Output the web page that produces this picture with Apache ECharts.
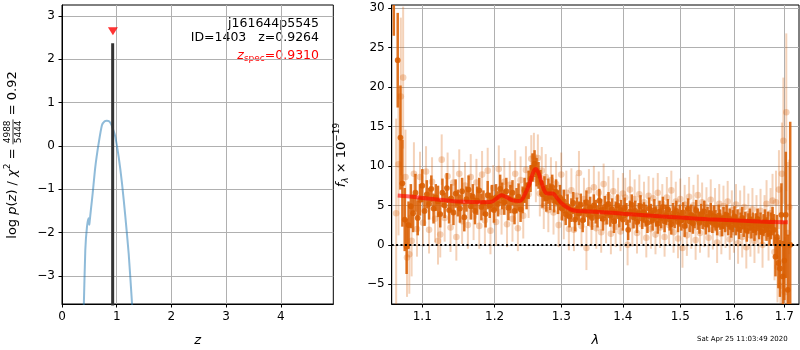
<!DOCTYPE html>
<html>
<head>
<meta charset="utf-8">
<script src="https://cdn.jsdelivr.net/npm/echarts@6/dist/echarts.min.js"></script>
<style>html,body{margin:0;padding:0;background:#fff}#c{width:800px;height:350px}</style>
</head>
<body>
<div id="c"></div>
<script>
// ---------- left panel: p(z) ----------
const pzZ   = [0.39,0.40,0.426,0.457,0.488,0.500,0.505,0.53,0.561,0.609,0.67,0.73,0.78,0.82,0.86,0.90,0.94,0.975,1.036,1.097,1.158,1.219,1.28,1.295];
const pzLog = [-3.9,-3.62,-2.40,-1.86,-1.67,-1.82,-1.75,-1.45,-1.09,-0.48,0.06,0.48,0.57,0.58,0.57,0.50,0.36,0.21,-0.25,-0.86,-1.63,-2.48,-3.63,-3.9];
const zBest = 0.9264, zBestTop = 2.37, zBestBottom = -3.9;
const zSpec = 0.9310, zSpecMarkY = 2.65;
const leftXTicks = [0,1,2,3,4];
const leftYTicks = [-3,-2,-1,0,1,2,3];

// ---------- right panel: spectrum ----------
const darkLam = [
1.063,1.068,1.0715,1.074,1.077,1.0795,1.082,1.085,1.088,1.091,
1.094,1.097,1.100,1.103,1.106,1.109,1.112,1.115,1.118,1.121,
1.124,1.127,1.130,1.133,1.136,1.139,1.142,1.145,1.148,1.151,
1.154,1.157,1.160,1.163,1.166,1.169,1.172,1.175,1.178,1.181,
1.184,1.187,1.190,1.193,1.196,1.199,1.202,1.205,1.208,1.211,
1.214,1.217,1.220,1.223,1.226,1.229,1.232,1.235,1.238,1.241,
1.244,1.247,1.250,1.253,1.256,1.259,1.262,1.265,1.268,1.271,
1.274,1.277,1.280,1.283,1.286,1.289,1.292,1.295,1.298,1.301,
1.304,1.307,1.310,1.313,1.316,1.319,1.322,1.325,1.328,1.331,
1.334,1.337,1.340,1.343,1.346,1.349,1.352,1.355,1.358,1.361,
1.364,1.367,1.370,1.373,1.376,1.379,1.382,1.385,1.388,1.391,
1.394,1.397,1.400,1.403,1.406,1.409,1.412,1.415,1.418,1.421,
1.424,1.427,1.430,1.433,1.436,1.439,1.442,1.445,1.448,1.451,
1.454,1.457,1.460,1.463,1.466,1.469,1.472,1.475,1.478,1.481,
1.484,1.487,1.490,1.493,1.496,1.499,1.502,1.505,1.508,1.511,
1.514,1.517,1.520,1.523,1.526,1.529,1.532,1.535,1.538,1.541,
1.544,1.547,1.550,1.553,1.556,1.559,1.562,1.565,1.568,1.571,
1.574,1.577,1.580,1.583,1.586,1.589,1.592,1.595,1.598,1.601,
1.604,1.607,1.610,1.613,1.616,1.619,1.622,1.625,1.628,1.631,
1.634,1.637,1.640,1.643,1.646,1.649,1.652,1.655,1.658,1.661,
1.664,1.667,1.670,1.673,1.676,1.679,1.682,1.685,1.688,1.691,
1.694,1.697,1.700,1.703,1.707,1.712];
const darkFlux = [
34,23.4,13.6,7.8,3.2,-0.2,2.5,4.9,4.0,6.6,
3.4,5.7,7.5,4.3,6.4,5.2,7.1,4.6,6.0,5.5,
3.9,6.6,5.0,7.2,4.4,5.9,4.1,6.5,5.3,4.6,
6.8,3.5,5.8,7.0,4.9,6.1,4.3,5.6,6.9,4.8,
5.3,3.9,6.3,5.0,5.9,4.4,6.0,5.2,7.1,6.2,
5.4,6.8,4.7,5.8,6.6,4.3,5.6,6.1,4.5,5.7,
6.9,6.2,7.6,8.4,9.8,10.3,9.2,8.8,7.9,6.4,
7.1,5.9,6.8,6.1,7.3,5.6,6.7,5.4,6.0,4.6,
5.5,3.9,4.9,3.6,4.4,5.3,3.2,4.6,4.0,5.1,
3.1,4.3,5.4,3.8,4.7,3.4,5.0,4.2,3.6,5.6,
4.4,3.3,4.8,4.0,5.2,3.7,4.5,3.0,4.1,5.0,
3.6,4.4,3.2,4.7,3.9,1.9,4.2,5.1,3.5,4.3,
2.9,4.0,4.9,3.3,4.1,3.7,2.8,4.6,3.9,3.1,
4.4,3.6,2.7,4.2,3.4,4.8,3.0,3.8,4.5,3.2,
2.6,4.0,3.5,4.3,2.9,3.7,3.1,4.1,2.4,3.4,
4.6,3.0,3.8,2.7,3.5,4.4,3.2,2.8,3.9,3.3,
4.2,2.6,3.5,3.0,4.0,2.8,3.6,3.1,2.5,3.7,
3.2,2.4,3.4,2.9,3.8,2.6,3.3,2.2,3.0,3.6,
2.5,3.1,2.0,2.8,3.4,2.3,2.9,1.8,2.7,3.2,
2.2,2.8,1.9,2.6,3.3,2.1,2.7,1.6,2.5,3.0,
2.0,2.6,1.5,2.4,3.0,1.9,-1.5,1.0,-2.3,-3.0,
3.8,-4.0,-2.0,3.8,-5.7,0.0];
const darkErr = [
7.5,6,6.6,5.5,4,3.5,3,2.8,2.4,2.4,
2.2,2.0,2.1,1.9,1.8,2.0,1.7,1.9,1.7,2.0,
1.7,1.8,1.6,1.9,1.7,1.8,1.6,1.8,1.7,1.8,
1.7,1.8,1.6,1.8,1.7,1.6,1.7,1.8,1.6,1.7,
1.6,1.7,1.8,1.6,1.7,1.6,1.7,1.6,1.8,1.7,
1.6,1.7,1.6,1.8,1.6,1.7,1.6,1.7,1.6,1.7,
1.6,1.7,1.8,1.7,1.8,1.7,1.8,1.7,1.6,1.7,
1.6,1.7,1.6,1.7,1.6,1.5,1.6,1.5,1.6,1.5,
1.5,1.4,1.5,1.4,1.5,1.4,1.5,1.4,1.5,1.4,
1.5,1.4,1.5,1.4,1.4,1.5,1.4,1.5,1.4,1.5,
1.4,1.5,1.4,1.4,1.5,1.4,1.4,1.5,1.4,1.4,
1.4,1.3,1.4,1.3,1.4,1.3,1.4,1.3,1.4,1.3,
1.4,1.3,1.4,1.3,1.3,1.4,1.3,1.4,1.3,1.3,
1.4,1.3,1.3,1.4,1.3,1.3,1.4,1.3,1.3,1.4,
1.3,1.3,1.4,1.3,1.3,1.4,1.3,1.3,1.4,1.3,
1.3,1.4,1.3,1.3,1.4,1.3,1.3,1.4,1.3,1.3,
1.4,1.3,1.3,1.4,1.3,1.3,1.4,1.3,1.3,1.4,
1.3,1.3,1.4,1.3,1.3,1.4,1.3,1.3,1.4,1.3,
1.3,1.4,1.3,1.3,1.4,1.3,1.3,1.4,1.3,1.4,
1.4,1.3,1.4,1.4,1.3,1.4,1.4,1.5,1.4,1.5,
1.5,1.6,1.6,1.7,1.8,2.0,2.5,2.8,3.2,3.6,
4.0,4.5,5.0,8.0,7.0,15.6];

const lightLam = [
1.066,1.069,1.072,1.075,1.078,1.080,1.083,1.086,1.089,1.093,
1.097,1.101,1.105,1.109,1.113,1.117,1.121,1.124,1.126,1.130,
1.134,1.138,1.142,1.146,1.150,1.154,1.158,1.162,1.166,1.170,
1.174,1.178,1.182,1.186,1.190,1.194,1.198,1.202,1.206,1.210,
1.214,1.218,1.222,1.226,1.230,1.234,1.238,1.242,1.246,1.250,
1.254,1.258,1.261,1.264,1.267,1.270,1.273,1.276,1.280,1.284,
1.288,1.292,1.296,1.300,1.304,1.308,1.312,1.316,1.320,1.324,
1.328,1.332,1.336,1.340,1.344,1.348,1.352,1.356,1.360,1.364,
1.368,1.372,1.376,1.380,1.384,1.388,1.392,1.396,1.400,1.404,
1.408,1.412,1.416,1.420,1.424,1.428,1.432,1.436,1.440,1.444,
1.448,1.452,1.456,1.460,1.464,1.468,1.472,1.476,1.480,1.484,
1.488,1.492,1.496,1.500,1.504,1.508,1.512,1.516,1.520,1.524,
1.528,1.532,1.536,1.540,1.544,1.548,1.552,1.556,1.560,1.564,
1.568,1.572,1.576,1.580,1.584,1.588,1.592,1.596,1.600,1.604,
1.608,1.612,1.616,1.620,1.624,1.628,1.632,1.636,1.640,1.644,
1.648,1.652,1.656,1.660,1.664,1.668,1.672,1.676,1.680,1.683,
1.686,1.689,1.692,1.695,1.698,1.701,1.704,1.707,1.710];
const lightFlux = [
4.0,10.2,18.8,21.2,8.6,-1.6,-1.2,0.5,9.0,2.0,
8.6,2.8,9.3,1.9,8.0,3.3,0.5,1.3,10.8,3.4,
8.7,2.2,7.9,1.0,9.0,3.0,7.5,2.5,8.6,3.6,
7.9,2.4,8.9,3.1,9.4,1.8,7.2,2.9,9.6,4.2,
8.0,2.6,7.6,3.3,9.0,2.1,8.2,3.7,9.5,6.4,
10.9,11.2,8.3,11.0,6.5,9.4,4.9,8.6,4.4,8.2,
4.1,7.7,2.5,8.9,3.4,6.6,2.0,6.9,1.9,6.2,
9.1,2.4,5.8,-0.4,6.9,2.6,7.3,2.1,6.6,1.6,
7.7,2.9,6.1,1.4,6.8,2.3,5.9,1.7,6.5,6.0,
0.0,7.0,2.4,5.8,1.5,6.4,2.6,5.4,0.9,6.2,
2.0,5.9,1.3,6.6,2.2,5.2,1.0,6.0,2.5,6.9,
1.6,5.5,0.8,5.8,-0.4,5.1,1.2,6.1,2.0,5.0,
0.6,6.3,1.5,5.4,2.3,4.8,0.9,5.7,1.9,4.6,
0.3,5.2,1.4,4.9,2.1,5.5,0.7,4.4,1.6,5.1,
0.2,4.2,1.0,4.8,-0.3,3.9,1.2,4.5,0.5,3.6,
1.7,4.3,0.0,3.4,5.2,1.1,4.0,5.6,-0.9,5.4,
-2.8,7.0,-5.2,9.0,13.2,-6.0,16.8,1.5,4.8];
const lightErr = [
12,9,10,9,6,5,5,4.5,4,3.5,
3.2,3,3.2,3,3.1,3,3,2.9,3.2,3,
3,3.1,2.9,3,3.1,2.9,3,3,2.9,3,
3,2.9,3,3,2.9,3,2.9,3,3,2.9,
3,2.9,3,2.9,3,2.9,3,2.9,3,3,
3,3,2.9,3,2.9,3,2.9,2.9,2.8,2.9,
2.8,2.9,2.8,2.8,2.7,2.8,2.7,2.8,2.7,2.7,
2.8,2.7,2.7,2.8,2.7,2.6,2.7,2.6,2.7,2.6,
2.6,2.7,2.6,2.6,2.7,2.6,2.6,2.5,2.6,2.5,
2.6,2.5,2.6,2.5,2.6,2.5,2.5,2.6,2.5,2.5,
2.5,2.6,2.5,2.5,2.6,2.5,2.5,2.6,2.5,2.5,
2.6,2.5,2.5,2.6,2.5,2.5,2.6,2.5,2.5,2.6,
2.5,2.6,2.5,2.5,2.6,2.5,2.5,2.6,2.5,2.6,
2.6,2.5,2.6,2.6,2.5,2.6,2.6,2.5,2.6,2.6,
2.6,2.7,2.6,2.7,2.7,2.6,2.7,2.7,2.8,2.7,
2.8,2.8,2.9,2.9,3.0,3.1,3.2,3.4,3.6,4.0,
4.5,5,5.5,6.5,8,7,10,9,6];

const modelLam  = [1.068,1.08,1.10,1.12,1.14,1.16,1.18,1.195,1.203,1.210,1.218,1.228,1.237,1.245,1.252,1.257,1.261,1.265,1.270,1.275,1.280,1.287,1.292,1.300,1.310,1.320,1.335,1.355,1.40,1.45,1.50,1.55,1.60,1.65,1.707];
const modelFlux = [6.25,6.15,5.95,5.75,5.55,5.45,5.4,5.45,5.9,6.3,6.0,5.6,5.55,6.5,7.9,9.2,9.6,9.1,7.8,6.7,6.5,6.5,6.1,5.3,4.7,4.35,4.25,4.2,3.95,3.7,3.45,3.25,3.1,2.95,2.85];

const lamMin = 1.0603, lamMax = 1.7302;
const rightXTicks = [1.1,1.2,1.3,1.4,1.5,1.6,1.7];
const rightYTicks = [-5,0,5,10,15,20,25,30];

// ---------- drawing ----------
const F = '"DejaVu Sans"';
const ORANGE = '#d95f02';
const chart = echarts.init(document.getElementById('c'), null, {renderer: 'canvas'});
const mctx = document.createElement('canvas').getContext('2d');
function measure(t, font) { mctx.font = font; return mctx.measureText(t).width; }
const minusFmt = v => (v < 0 ? '\u2212' + (-v) : String(v));

function pieceGroup(pieces, opts) {
  const children = [];
  let cur = 0;
  pieces.forEach(p => {
    if (p.frac) {
      const wn = measure(p.frac[0], p.f), wd = measure(p.frac[1], p.f);
      const w = Math.max(wn, wd) + 2;
      children.push({type:'text', x: cur + (w - wn) / 2, y: -1, style:{text:p.frac[0], font:p.f, fill:p.c||'#000', align:'left', verticalAlign:'bottom'}});
      children.push({type:'text', x: cur + (w - wd) / 2, y: 1.5, style:{text:p.frac[1], font:p.f, fill:p.c||'#000', align:'left', verticalAlign:'top'}});
      children.push({type:'line', shape:{x1:cur, y1:0, x2:cur + w, y2:0}, style:{stroke:'#000', lineWidth:0.8}});
      cur += w;
    } else {
      children.push({type:'text', x: cur, y: p.dy || 0, style:{text:p.t, font:p.f, fill:p.c||'#000', align:'left', verticalAlign:'middle'}});
      cur += measure(p.t, p.f);
    }
  });
  const g = {type:'group', children};
  if (opts.rotate) {
    g.x = opts.cx; g.y = opts.cy + cur / 2; g.rotation = Math.PI / 2;
  } else if (opts.alignRight) {
    g.x = opts.x - cur; g.y = opts.y;
  } else {
    g.x = opts.x; g.y = opts.y;
  }
  return g;
}

const N13 = `13px ${F}`, I13 = `italic 13px ${F}`, N9 = `9px ${F}`, I9 = `italic 9px ${F}`;
const leftYLabel = pieceGroup([
  {t:'log ', f:N13}, {t:'p', f:I13}, {t:'(', f:N13}, {t:'z', f:I13}, {t:') / ', f:N13},
  {t:'\u03c7', f:I13}, {t:'2', f:N9, dy:-5}, {t:' = ', f:N13},
  {frac:['4988','5444'], f:N9}, {t:' = 0.92', f:N13}
], {rotate:true, cx:13, cy:155});
const rightYLabel = pieceGroup([
  {t:'f', f:I13}, {t:'\u03bb', f:I9, dy:4}, {t:' \u00d7 10', f:N13}, {t:'\u221219', f:N9, dy:-5}
], {rotate:true, cx:342, cy:155});
const N125 = `12.5px ${F}`, I125 = `italic 12.5px ${F}`;
const zspecLabel = pieceGroup([
  {t:'z', f:I125, c:'#ff0000'}, {t:'spec', f:N9, dy:3, c:'#ff0000'}, {t:'=0.9310', f:N125, c:'#ff0000'}
], {alignRight:true, x:319, y:56});

function errRender(color, opacity, lw, r) {
  return function (params, api) {
    const x = api.value(0), y = api.value(1), e = api.value(2);
    const t = api.coord([x, y + e]), b = api.coord([x, y - e]), c = api.coord([x, y]);
    return {type:'group', children:[
      {type:'line', shape:{x1:t[0], y1:t[1], x2:b[0], y2:b[1]}, style:{stroke:color, lineWidth:lw, opacity:opacity}},
      {type:'circle', shape:{cx:c[0], cy:c[1], r:r}, style:{fill:color, opacity:opacity}}
    ]};
  };
}

const axisCommon = {
  axisLine: {show:true, onZero:false, lineStyle:{color:'#000', width:1}},
  axisTick: {show:true, inside:false, length:3.5, lineStyle:{color:'#000', width:1}},
  splitLine: {show:true, lineStyle:{color:'#b0b0b0', width:1}}
};

const option = {
  animation: false,
  textStyle: {fontFamily: F},
  grid: [
    {left:62, top:5, width:271.3, height:299, show:true, borderColor:'#000', borderWidth:1, backgroundColor:'transparent'},
    {left:391.7, top:5, width:407.3, height:299, show:true, borderColor:'#000', borderWidth:1, backgroundColor:'transparent'}
  ],
  xAxis: [
    Object.assign({}, axisCommon, {gridIndex:0, type:'value', min:0, max:4.96,
      axisTick: Object.assign({}, axisCommon.axisTick, {customValues: leftXTicks}),
      axisLabel: {customValues: leftXTicks, formatter: minusFmt, color:'#000', fontSize:12, margin:7, fontFamily:F}}),
    Object.assign({}, axisCommon, {gridIndex:1, type:'value', min:Math.log(lamMin), max:Math.log(lamMax),
      axisTick: Object.assign({}, axisCommon.axisTick, {customValues: rightXTicks.map(Math.log)}),
      axisLabel: {customValues: rightXTicks.map(Math.log), formatter: v => Math.exp(v).toFixed(1), color:'#000', fontSize:12, margin:7, fontFamily:F}})
  ],
  yAxis: [
    Object.assign({}, axisCommon, {gridIndex:0, type:'value', min:-3.646, max:3.254,
      axisTick: Object.assign({}, axisCommon.axisTick, {customValues: leftYTicks}),
      axisLabel: {customValues: leftYTicks, formatter: minusFmt, color:'#000', fontSize:12, margin:7, fontFamily:F}}),
    Object.assign({}, axisCommon, {gridIndex:1, type:'value', min:-7.5, max:30.4,
      axisTick: Object.assign({}, axisCommon.axisTick, {customValues: rightYTicks}),
      axisLabel: {customValues: rightYTicks, formatter: minusFmt, color:'#000', fontSize:12, margin:7, fontFamily:F}})
  ],
  series: [
    {type:'line', xAxisIndex:0, yAxisIndex:0, data: pzZ.map((z,i)=>[z, pzLog[i]]), showSymbol:false, smooth:0.2,
      lineStyle:{color:'#1f77b4', opacity:0.5, width:2}, clip:true},
    {type:'line', xAxisIndex:0, yAxisIndex:0, data: [[zBest, zBestBottom],[zBest, zBestTop]], showSymbol:false,
      lineStyle:{color:'#333333', width:3}, clip:true},
    {type:'scatter', xAxisIndex:0, yAxisIndex:0, data: [[zSpec, zSpecMarkY]], symbol:'triangle', symbolRotate:180,
      symbolSize:[10,8], itemStyle:{color:'#ff0000'}},
    {type:'custom', xAxisIndex:1, yAxisIndex:1, clip:true, renderItem: errRender(ORANGE, 0.28, 2, 3.3),
      data: lightLam.map((l,i)=>[Math.log(l), lightFlux[i], lightErr[i]])},
    {type:'custom', xAxisIndex:1, yAxisIndex:1, clip:true, renderItem: errRender(ORANGE, 0.88, 2.5, 2.9),
      data: darkLam.map((l,i)=>[Math.log(l), darkFlux[i], darkErr[i]])},
    {type:'line', xAxisIndex:1, yAxisIndex:1, data: modelLam.map((l,i)=>[Math.log(l), modelFlux[i]]), showSymbol:false,
      smooth:0.35, lineStyle:{color:'#ff0000', opacity:0.6, width:4}, clip:true,
      markLine:{silent:true, symbol:'none', label:{show:false},
        lineStyle:{color:'#000', width:2, type:[2,2.4], opacity:1},
        data:[{yAxis:0}]}}
  ],
  graphic: [
    leftYLabel, rightYLabel, zspecLabel,
    {type:'text', x:319, y:24, style:{text:'j161644p5545', font:N125, fill:'#000', align:'right', verticalAlign:'middle'}},
    {type:'text', x:319, y:38, style:{text:'ID=1403   z=0.9264', font:N125, fill:'#000', align:'right', verticalAlign:'middle'}},
    {type:'text', x:197.6, y:341, style:{text:'z', font:I13, fill:'#000', align:'center', verticalAlign:'middle'}},
    {type:'text', x:595.4, y:341, style:{text:'\u03bb', font:I13, fill:'#000', align:'center', verticalAlign:'middle'}},
    {type:'text', x:787.7, y:339, style:{text:'Sat Apr 25 11:03:49 2020', font:`7px ${F}`, fill:'#000', align:'right', verticalAlign:'middle'}}
  ]
};
chart.setOption(option);
</script>
</body>
</html>
